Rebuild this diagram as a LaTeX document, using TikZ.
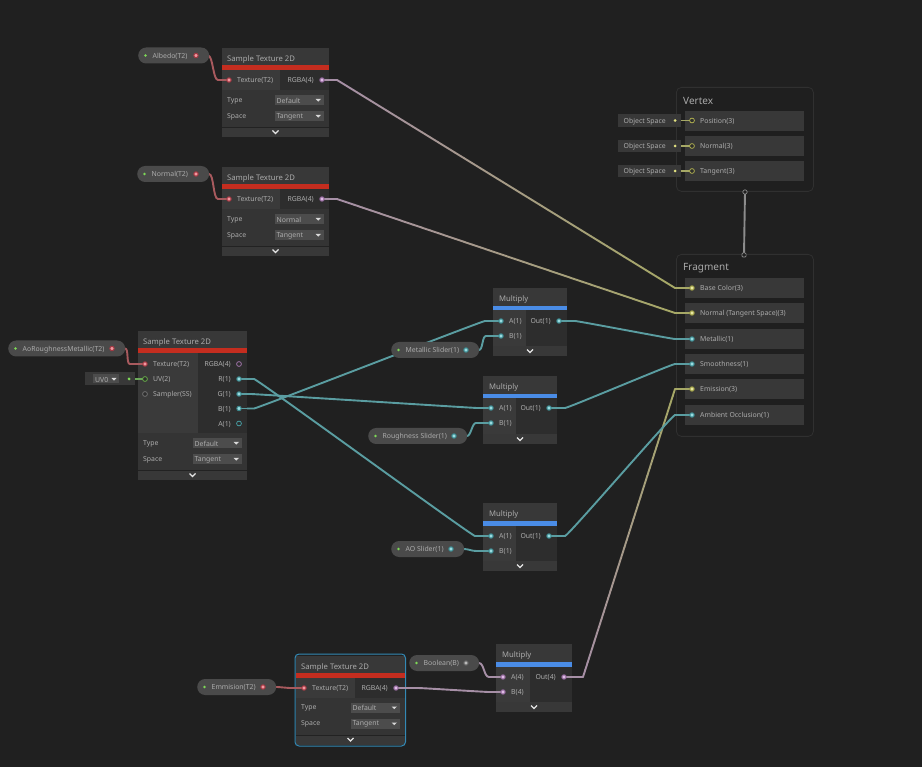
\documentclass[tikz,border=0pt]{standalone}
\usepackage{fontspec}
\setmainfont{Noto Sans}
\usetikzlibrary{calc}
\pgfdeclarelayer{wires}\pgfdeclarelayer{stubs}\pgfdeclarelayer{pills}\pgfdeclarelayer{ports}
\pgfsetlayers{wires,main,stubs,pills,ports}
\definecolor{bgc}{HTML}{202020}
\definecolor{head}{HTML}{383838}
\definecolor{panL}{HTML}{3A3A3A}
\definecolor{panR}{HTML}{2D2D2D}
\definecolor{opts}{HTML}{343434}
\definecolor{pillc}{HTML}{4A4A4A}
\definecolor{dd}{HTML}{4C4C4C}
\definecolor{txt}{HTML}{ABABAB}
\definecolor{redbar}{HTML}{C42D1F}
\definecolor{bluebar}{HTML}{4A8CE6}
\definecolor{wRed}{HTML}{A85A5E}
\definecolor{wPur}{HTML}{A68FA6}
\definecolor{wTeal}{HTML}{5A9DA1}
\definecolor{wOl}{HTML}{A6A866}
\definecolor{wGreen}{HTML}{6CA85A}
\definecolor{pRed}{HTML}{E8525F}
\definecolor{pPur}{HTML}{C98FD6}
\definecolor{pTeal}{HTML}{55C4CC}
\definecolor{pOl}{HTML}{D8D860}
\definecolor{pGreen}{HTML}{7ED957}
\definecolor{pGrey}{HTML}{8C8C8C}
\definecolor{selc}{HTML}{3389B5}
\tikzset{
  wirest/.style={line width=1.9pt,line cap=round,line join=round},
  lab/.style={text=txt,inner sep=0pt,yshift=-.8pt,font=\fontsize{6.9}{8}\selectfont},
  ttl/.style={text=txt,inner sep=0pt,yshift=-.8pt,font=\fontsize{7.7}{9}\selectfont},
  bigttl/.style={text=txt,inner sep=0pt,yshift=-.8pt,font=\fontsize{10}{12}\selectfont},
  con/.style={circle,inner sep=0pt,minimum size=4.4pt,line width=1pt,draw=#1!70!black,fill=#1!60!white},
  hol/.style={circle,inner sep=0pt,minimum size=4.8pt,line width=.7pt,draw=#1!85!black,fill=panR},
  bx/.style={rectangle,inner sep=0pt,anchor=north west,line width=0pt},
}
% rectangle helper: name, x1,y1,x2,y2, fill
\newcommand{\bx}[6]{\node[bx,fill=#6,minimum width={(#4)-(#2)},minimum height={(#5)-(#3)}] (#1) at (#2,#3) {};}
% port helpers
\newcommand{\pin}[6]{% name,x,y,style,color,label
  \begin{pgfonlayer}{ports}\node[#4=#5] (#1) at (#2,#3) {};\end{pgfonlayer}
  \node[lab,anchor=west] (#1-l) at ({#2+8},#3) {#6};}
\newcommand{\pout}[6]{%
  \begin{pgfonlayer}{ports}\node[#4=#5] (#1) at (#2,#3) {};\end{pgfonlayer}
  \node[lab,anchor=east] (#1-l) at ({#2-8},#3) {#6};}
\newcommand{\chev}[3]{\node[inner sep=0pt,minimum size=1pt] (#1) at (#2,#3) {};
  \draw[white!90!black,line width=1.1pt] ({#2-3},{#3-1.5}) -- (#2,{#3+1.5}) -- ({#2+3},{#3-1.5});}
% dropdown: name, right x, y, text
\newcommand{\ddown}[4]{\bx{#1}{#2-49}{#3-5}{#2}{#3+5}{dd}
  \node[lab,anchor=west] (#1-t) at ({#2-47},#3) {#4};
  \fill[white!85!black] ({#2-8},{#3-1}) -- ({#2-2.5},{#3-1}) -- ({#2-5.25},{#3+1.7}) -- cycle;}
% sample texture node: id,x,y,w,panelheight,sepx,type
\newcommand{\stnode}[7]{%
  \bx{#1}{#2}{#3}{#2+#4}{#3+#5+69}{opts}
  \bx{#1-head}{#2}{#3}{#2+#4}{#3+17}{head}
  \bx{#1-bar}{#2}{#3+17}{#2+#4}{#3+22}{redbar}
  \bx{#1-pl}{#2}{#3+22}{#6}{#3+22+#5}{panL}
  \bx{#1-pr}{#6}{#3+22}{#2+#4}{#3+22+#5}{panR}
  \bx{#1-foot}{#2}{#3+#5+59.5}{#2+#4}{#3+#5+69}{head}
  \node[fill=black!35!opts,bx,minimum width={#4},minimum height=.8pt] (#1-sep) at (#2,{#3+#5+59}) {};
  \node[ttl,anchor=west] (#1-t) at ({#2+5},{#3+11}) {Sample Texture 2D};
  \node[lab,anchor=west] (#1-ty) at ({#2+5},{#3+#5+32}) {Type};
  \node[lab,anchor=west] (#1-sp) at ({#2+5},{#3+#5+48}) {Space};
  \ddown{#1-d1}{#2+#4-5.5}{#3+#5+32}{#7}
  \ddown{#1-d2}{#2+#4-5.5}{#3+#5+48}{Tangent}
  \chev{#1-c}{#2+#4/2}{#3+#5+64}
}
\newcommand{\mulnode}[5]{% id,x,y,w,sep
  \bx{#1}{#2}{#3}{#2+#4}{#3+68}{head}
  \bx{#1-bar}{#2}{#3+18}{#2+#4}{#3+22.5}{bluebar}
  \bx{#1-pl}{#2}{#3+22.5}{#5}{#3+58}{panL}
  \bx{#1-pr}{#5}{#3+22.5}{#2+#4}{#3+58}{panR}
  \node[ttl,anchor=west] (#1-t) at ({#2+6},{#3+11}) {Multiply};
  \chev{#1-c}{#2+#4/2}{#3+63}
}
% pill: id,x1,x2,yc,label,portcolor
\newcommand{\pill}[6]{%
  \begin{pgfonlayer}{pills}
  \node[rectangle,rounded corners=8pt,fill=pillc,inner sep=0pt,anchor=west,minimum height=16pt,minimum width={(#3)-(#2)}] (#1) at (#2,#4) {};
  \node[circle,fill=pGreen,inner sep=0pt,minimum size=2.6pt] (#1-d) at ({#2+7.5},#4) {};
  \node[lab,anchor=west] (#1-l) at ({#2+14.5},#4) {#5};
  \end{pgfonlayer}
  \begin{pgfonlayer}{ports}\node[con=#6] (#1-p) at ({#3-13},#4) {};\end{pgfonlayer}}
% object-space box
\newcommand{\osbox}[2]{%
  \begin{pgfonlayer}{pills}
  \node[bx,anchor=west,fill=head,minimum width=63pt,minimum height=12.5pt] (#1) at (618,#2) {};
  \node[lab,anchor=west] (#1-l) at (623.5,#2) {Object Space};
  \node[circle,fill=pOl!80!white,inner sep=0pt,minimum size=3pt] (#1-p) at (675,#2) {};
  \end{pgfonlayer}}
% wires
\newcommand{\wire}[6]{% colour,from,to,s1,s2,c
  \begin{pgfonlayer}{wires}
  \draw[wirest,draw=#1] (#2.center) -- ($(#2.center)+(#4,0)$) .. controls ($(#2.center)+(#4+#6,0)$) and ($(#3.center)+(-#5-#6,0)$) .. ($(#3.center)+(-#5,0)$) -- (#3.center);
  \end{pgfonlayer}
  \begin{pgfonlayer}{stubs}
  \draw[wirest,draw=#1] (#2.center) -- ($(#2.center)+(#4,0)$);
  \draw[wirest,draw=#1] (#3.center) -- ($(#3.center)+(-#5,0)$);
  \end{pgfonlayer}}
\newcommand{\gradwire}[6]{% c1,c2,from,to,s1,s2
  \begin{pgfonlayer}{wires}
  \path ($(#3.center)+(#5,0)$) coordinate (gwa) ($(#4.center)+(-#6,0)$) coordinate (gwb);
  \foreach \k in {1,...,40}{%
    \pgfmathsetmacro\pa{(\k-1)/40}\pgfmathsetmacro\pb{\k/40}\pgfmathsetmacro\pc{101.25-2.5*\k}
    \draw[wirest,draw={#1!\pc!#2}] ($(gwa)!\pa!(gwb)$) -- ($(gwa)!\pb!(gwb)$);}
  \end{pgfonlayer}
  \begin{pgfonlayer}{stubs}
  \draw[wirest,draw=#1] (#3.center) -- ($(#3.center)+(#5,0)$);
  \draw[wirest,draw=#2] (#4.center) -- ($(#4.center)+(-#6,0)$);
  \end{pgfonlayer}}
\begin{document}
\begin{tikzpicture}[x=1pt,y=-1pt]
\begin{pgfonlayer}{wires}
\fill[bgc] (0,0) rectangle (922,767);
\end{pgfonlayer}
\useasboundingbox (0,0) rectangle (922,767);

% ---------- sample texture nodes
\stnode{sa}{222}{48}{107}{20}{280}{Default}
\pin{sa-tex}{229}{80}{con}{pRed}{Texture(T2)}
\pout{sa-rgba}{322}{80}{con}{pPur}{RGBA(4)}
\stnode{sb}{222}{167}{107}{20}{280}{Normal}
\pin{sb-tex}{229}{199}{con}{pRed}{Texture(T2)}
\pout{sb-rgba}{322}{199}{con}{pPur}{RGBA(4)}
\stnode{sc}{138}{331}{109}{80}{198}{Default}
\pin{sc-tex}{145}{364}{con}{pRed}{Texture(T2)}
\pin{sc-uv}{145}{379}{hol}{pGreen}{UV(2)}
\pin{sc-ss}{145}{394}{hol}{pGrey}{Sampler(SS)}
\pout{sc-rgba}{239}{364}{hol}{pPur}{RGBA(4)}
\pout{sc-r}{239}{379}{con}{pTeal}{R(1)}
\pout{sc-g}{239}{394}{con}{pTeal}{G(1)}
\pout{sc-b}{239}{408.5}{con}{pTeal}{B(1)}
\pout{sc-a}{239}{423.5}{hol}{pTeal}{A(1)}
\stnode{se}{296}{655.5}{109}{20}{355}{Default}
\draw[rounded corners=4pt,draw=selc,line width=1pt] (295,654) rectangle (405.5,746);
\pin{se-tex}{304}{688}{con}{pRed}{Texture(T2)}
\pout{se-rgba}{396}{688}{con}{pPur}{RGBA(4)}

% ---------- multiply nodes
\mulnode{ma}{493}{288}{74}{526}
\pin{ma-a}{501}{321}{con}{pTeal}{A(1)}
\pin{ma-b}{501}{336}{con}{pTeal}{B(1)}
\pout{ma-o}{559}{321}{con}{pTeal}{Out(1)}
\mulnode{mb}{483}{376}{74}{516}
\pin{mb-a}{491}{408}{con}{pTeal}{A(1)}
\pin{mb-b}{491}{423}{con}{pTeal}{B(1)}
\pout{mb-o}{549}{408}{con}{pTeal}{Out(1)}
\mulnode{mc}{483}{503}{74}{516}
\pin{mc-a}{491}{536}{con}{pTeal}{A(1)}
\pin{mc-b}{491}{551}{con}{pTeal}{B(1)}
\pout{mc-o}{549}{536}{con}{pTeal}{Out(1)}
\mulnode{md}{496}{644}{76}{530}
\pin{md-a}{503}{677}{con}{pPur}{A(4)}
\pin{md-b}{503}{692}{con}{pPur}{B(4)}
\pout{md-o}{564}{677}{con}{pPur}{Out(4)}

% ---------- property pills
\pill{albedo}{138}{209}{55.5}{Albedo(T2)}{pRed}
\pill{normal}{137}{209}{174}{Normal(T2)}{pRed}
\pill{aorm}{8}{125}{348.5}{AoRoughnessMetallic(T2)}{pRed}
\pill{metal}{391}{479}{350}{Metallic Slider(1)}{pTeal}
\pill{rough}{368}{467}{436}{Roughness Slider(1)}{pTeal}
\pill{aos}{391}{464}{549}{AO Slider(1)}{pTeal}
\pill{bool}{409}{479}{663}{Boolean(B)}{pGrey}
\pill{emm}{197}{276}{687}{Emmision(T2)}{pRed}

% ---------- UV0 box
\begin{pgfonlayer}{pills}
\node[bx,fill=head,minimum width=50pt,minimum height=13pt] (uvbox) at (85,372.5) {};
\node[bx,fill=dd,minimum width=26pt,minimum height=9pt] (uvdd) at (93,374.5) {};
\node[lab,anchor=west] (uvt) at (95,379) {UV0};
\fill[white!85!black] (111.5,378) -- (116.5,378) -- (114,380.7) -- cycle;
\node[circle,fill=pGreen,inner sep=0pt,minimum size=3pt] (uvp) at (129,379) {};
\end{pgfonlayer}

% ---------- vertex block
\node[bx,draw=white!7!bgc,line width=.8pt,fill=black!4!bgc,rounded corners=5pt,minimum width=137pt,minimum height=104pt] (vert) at (676,87) {};
\node[bigttl,anchor=west] (vert-t) at (683,100) {Vertex};
\bx{vr1}{685}{111}{804}{131}{head}
\bx{vr2}{685}{136}{804}{156}{head}
\bx{vr3}{685}{161}{804}{181}{head}
\pin{v-pos}{692}{120.5}{hol}{pOl}{Position(3)}
\pin{v-nor}{692}{146}{hol}{pOl}{Normal(3)}
\pin{v-tan}{692}{171}{hol}{pOl}{Tangent(3)}
\osbox{os1}{120.5}
\osbox{os2}{146}
\osbox{os3}{171}

% ---------- fragment block
\node[bx,draw=white!7!bgc,line width=.8pt,fill=black!4!bgc,rounded corners=5pt,minimum width=137pt,minimum height=182pt] (frag) at (676,254) {};
\node[bigttl,anchor=west] (frag-t) at (683,267) {Fragment};
\bx{fr1}{685}{278}{804}{298}{head}
\bx{fr2}{685}{303}{804}{323}{head}
\bx{fr3}{685}{329}{804}{349}{head}
\bx{fr4}{685}{354}{804}{374}{head}
\bx{fr5}{685}{379}{804}{399}{head}
\bx{fr6}{685}{405}{804}{425}{head}
\pin{f-base}{692}{288}{con}{pOl}{Base Color(3)}
\pin{f-norm}{692}{313}{con}{pOl}{Normal (Tangent Space)(3)}
\pin{f-met}{692}{339}{con}{pTeal}{Metallic(1)}
\pin{f-smo}{692}{364}{con}{pTeal}{Smoothness(1)}
\pin{f-emi}{692}{389}{con}{pOl}{Emission(3)}
\pin{f-ao}{692}{415}{con}{pTeal}{Ambient Occlusion(1)}

% vertex - fragment link
\begin{pgfonlayer}{ports}
\node[circle,draw=pGrey,fill=bgc,line width=.7pt,inner sep=0pt,minimum size=4.4pt] (v-out) at (745,192) {};
\node[rectangle,rounded corners=1pt,draw=pGrey,fill=bgc,line width=.7pt,inner sep=0pt,minimum size=4.2pt] (f-in) at (744,255) {};
\end{pgfonlayer}
\begin{pgfonlayer}{wires}
\draw[wirest,draw=pGrey] (v-out.center) -- (f-in.center);
\end{pgfonlayer}

% ---------- wires
\wire{wRed}{albedo-p}{sa-tex}{12}{11}{5}
\wire{wRed}{normal-p}{sb-tex}{13}{11}{5}
\wire{wRed}{aorm-p}{sc-tex}{13}{15}{4}
\wire{wRed}{emm-p}{se-tex}{14}{14}{2}
\wire{wGreen}{uvp}{sc-uv}{8}{8}{0}
\wire{wOl}{os1-p}{v-pos}{7}{10}{0}
\wire{wOl}{os2-p}{v-nor}{7}{10}{0}
\wire{wOl}{os3-p}{v-tan}{7}{10}{0}
\gradwire{wPur}{wOl}{sa-rgba}{f-base}{15}{17}
\gradwire{wPur}{wOl}{sb-rgba}{f-norm}{15}{17}
\gradwire{wPur}{wOl}{md-o}{f-emi}{19}{17}
\wire{wTeal}{sc-r}{mc-a}{15}{16}{3}
\wire{wTeal}{sc-g}{mb-a}{12}{14}{3}
\wire{wTeal}{sc-b}{ma-a}{15}{16}{3}
\wire{wTeal}{metal-p}{ma-b}{13}{15}{4}
\wire{wTeal}{rough-p}{mb-b}{13}{15}{4}
\wire{wTeal}{aos-p}{mc-b}{13}{15}{4}
\wire{wTeal}{ma-o}{f-met}{16}{17}{3}
\wire{wTeal}{mb-o}{f-smo}{16}{17}{3}
\wire{wTeal}{mc-o}{f-ao}{16}{17}{3}
\wire{wPur}{bool-p}{md-a}{13}{14}{5}
\wire{wPur}{se-rgba}{md-b}{22}{14}{4}
\end{tikzpicture}
\end{document}
